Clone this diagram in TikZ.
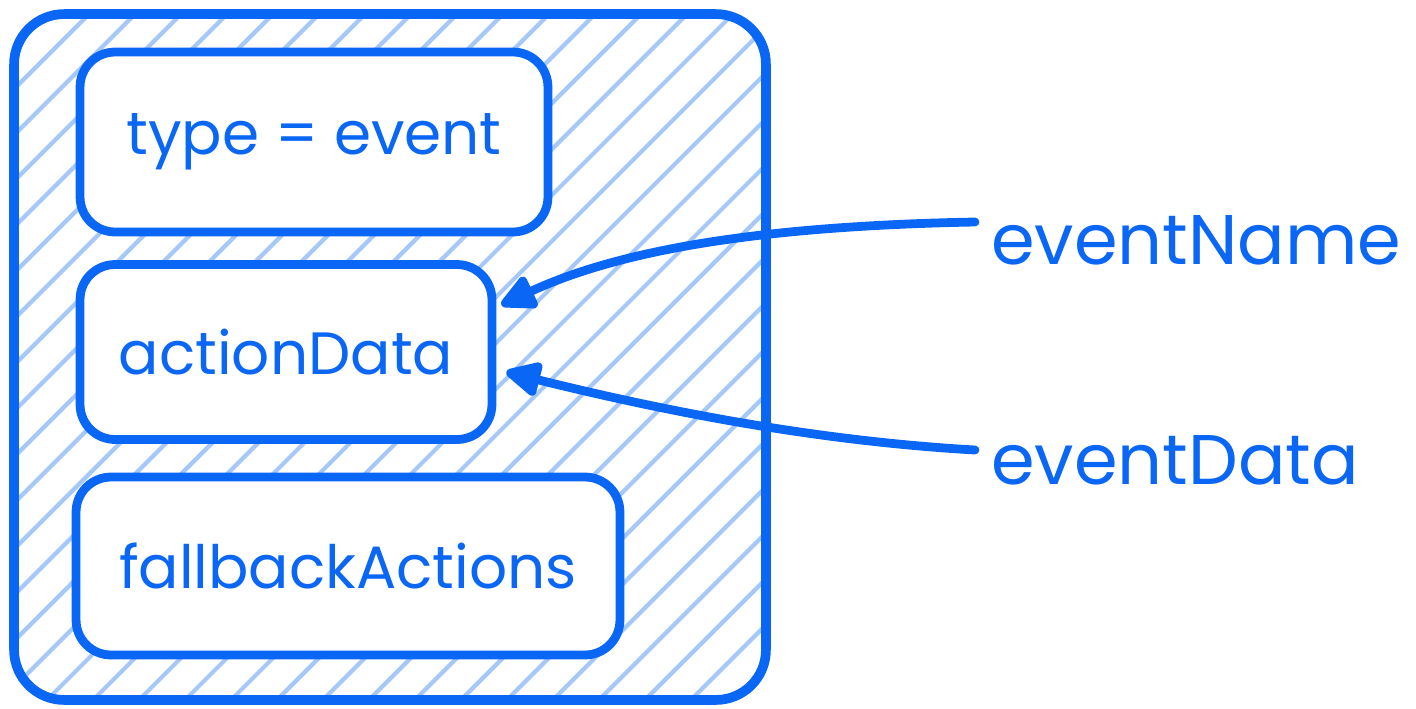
\documentclass[tikz,border=0pt]{standalone}
\usepackage{fontspec}
\setmainfont{Poppins}
\usetikzlibrary{arrows.meta}
\definecolor{exblue}{HTML}{0A66F5}
\definecolor{hatchblue}{HTML}{A5C8F8}
\tikzset{
    fieldbox/.style={rectangle, draw=exblue, line width=5pt, rounded corners=0.7cm, fill=white, text=exblue, font=\fontsize{34}{40}\selectfont},
    outerbox/.style={rectangle, draw=exblue, line width=5.5pt, rounded corners=1cm},
    sidelabel/.style={anchor=west, text=exblue, font=\fontsize{40}{48}\selectfont},
    flow/.style={draw=exblue, line width=5pt, line cap=round, -{Triangle[length=0.8cm, width=0.74cm, round]}}
}
\begin{document}
\begin{tikzpicture}[x=0.02cm, y=-0.02cm]
    \useasboundingbox (0,0) rectangle (1416,708);
    % Container
    \node (frame) [outerbox, minimum width=15.04cm, minimum height=13.72cm,
        path picture={
            \foreach \k in {-20,...,20}
                \draw[hatchblue, line width=2.4pt] ([xshift=\k*0.92cm]path picture bounding box.center) ++(-9cm,-9cm) -- ++(18cm,18cm);
        }] at (390,357) {};

    % Fields
    \node (typeBox) [fieldbox, minimum width=9.36cm, minimum height=3.6cm] at (314,142) {type = event};
    \node (dataBox) [fieldbox, minimum width=8.24cm, minimum height=3.5cm] at (286,352) {actionData};
    \node (fallbackBox) [fieldbox, minimum width=10.88cm, minimum height=3.56cm] at (348,566) {fallbackActions};

    % Inputs
    \node (evName) [sidelabel] at (985,240) {eventName};
    \node (evData) [sidelabel] at (985,460) {eventData};
    \coordinate (nameTail) at (975,222);
    \coordinate (dataTail) at (975,450);

    % Relationships
    \draw[flow] (nameTail) .. controls (760,226) and (620,250) .. ([yshift=0.94cm, xshift=0.1cm]dataBox.east);
    \draw[flow] (dataTail) .. controls (800,440) and (640,405) .. ([yshift=-0.4cm, xshift=0.2cm]dataBox.east);
\end{tikzpicture}
\end{document}
